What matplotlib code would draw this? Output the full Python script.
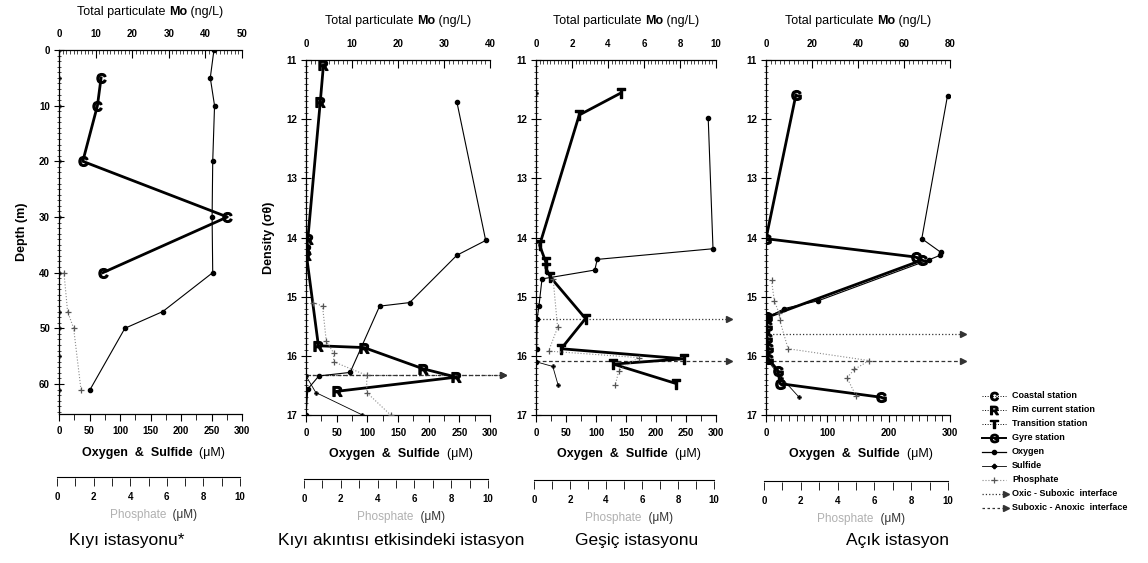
import matplotlib
matplotlib.use("Agg")
import matplotlib.pyplot as plt
from matplotlib.ticker import MultipleLocator

plt.rcParams["font.family"] = ["Liberation Sans", "DejaVu Sans"]
# station letters are drawn as mathtext markers in an upright bold face
plt.rcParams["mathtext.fontset"] = "custom"
plt.rcParams["mathtext.rm"] = "Liberation Sans:bold"
plt.rcParams["mathtext.it"] = "Liberation Sans:bold"
plt.rcParams["mathtext.bf"] = "Liberation Sans:bold"

# ---------------- data ----------------
# Coastal station (depth, m)
c_mo_depth = [5, 10, 20, 30, 40]
c_mo = [11.5, 10.5, 6.5, 46, 12]
c_o2_depth = [0, 5, 10, 20, 30, 40, 47, 50, 61]
c_o2 = [254, 248, 255, 252, 251, 252, 170, 108, 51]
c_h2s_depth = [0, 5, 10, 20, 30, 40, 47, 50, 55, 61]
c_h2s = [0, 0, 0, 0, 0, 0, 0, 0, 0, 0]
c_po4_depth = [40, 47, 50, 61]
c_po4 = [0.27, 0.47, 0.8, 1.2]

# Rim current station (density, sigma-theta)
r_mo_sig = [11.08, 11.71, 14.02, 14.2, 14.3, 15.83, 15.86, 16.22, 16.36, 16.6]
r_mo = [3.8, 3.1, 0.4, 0.1, 0.1, 2.7, 12.6, 25.5, 32.7, 6.7]
r_o2_sig = [11.71, 14.05, 14.3, 15.1, 15.16, 16.28, 16.34, 16.56, 17.0]
r_o2 = [246, 293, 246, 169, 120, 72, 21, 3, 0]
r_h2s_sig = [16.34, 16.62, 17.0]
r_h2s = [0, 16, 92]
r_po4_sig = [15.1, 15.16, 15.75, 15.95, 16.1, 16.33, 16.62, 17.0]
r_po4 = [0.4, 0.9, 1.1, 1.5, 1.5, 3.3, 3.3, 4.6]
r_interfaces = [16.33, 16.33]

# Transition station
t_mo_sig = [11.56, 11.93, 14.13, 14.42, 14.52, 14.67, 15.37, 15.88, 16.05, 16.14, 16.47]
t_mo = [4.7, 2.4, 0.2, 0.55, 0.55, 0.8, 2.75, 1.4, 8.2, 4.3, 7.8]
t_o2_sig = [11.98, 14.19, 14.37, 14.55, 14.7, 15.15, 15.37, 15.88, 16.1]
t_o2 = [287, 295, 102, 98, 10, 5, 2, 1, 0]
t_h2s_sig = [11.55, 15.37, 15.88, 16.1, 16.18, 16.5]
t_h2s = [0, 0, 0, 0, 28, 37]
t_po4_sig = [14.7, 15.52, 15.92, 16.03, 16.25, 16.5]
t_po4 = [0.95, 1.2, 0.7, 5.7, 4.6, 4.4]
t_interfaces = [15.37, 16.08]

# Gyre station
g_mo_sig = [11.59, 14.02, 14.33, 14.38, 15.35, 15.5, 15.7, 15.87, 16.05, 16.25, 16.47, 16.7]
g_mo = [13, 0, 65, 68, 0.3, 0.5, 0.5, 1, 1, 5.2, 6.1, 50]
g_o2_sig = [11.6, 14.02, 14.25, 14.3, 14.38, 15.07, 15.2, 15.35, 15.6, 16.0]
g_o2 = [296, 254, 285, 284, 265, 85, 30, 3, 1, 0]
g_h2s_sig = [16.05, 16.37, 16.7]
g_h2s = [0, 25, 54]
g_po4_sig = [14.72, 15.07, 15.27, 15.4, 15.88, 16.08, 16.23, 16.37, 16.68]
g_po4 = [0.3, 0.45, 0.7, 0.75, 1.2, 5.6, 4.8, 4.4, 4.9]
g_interfaces = [15.63, 16.08]

titles = ["Kıyı istasyonu*", "Kıyı akıntısı etkisindeki istasyon",
          "Geşiç istasyonu", "Açık istasyon"]
legend_labels = ["Coastal station", "Rim current station", "Transition station",
                 "Gyre station", "Oxygen", "Sulfide", "Phosphate",
                 "Oxic - Suboxic  interface", "Suboxic - Anoxic  interface"]

# ---------------- layout helpers ----------------
W, H = 1148, 563
fig = plt.figure(figsize=(W / 100, H / 100), dpi=100)
renderer = fig.canvas.get_renderer()


def px_axes(l, t, r, b):
    return fig.add_axes([l / W, 1 - b / H, (r - l) / W, (b - t) / H])


def mixed_text(cx, cy, pieces, size):
    """Centre a run of differently styled text pieces on pixel (cx, cy)."""
    objs, widths = [], []
    for s, w, c in pieces:
        t = fig.text(0, 0, s, fontsize=size, fontweight=w, color=c,
                     va="center", ha="left")
        widths.append(t.get_window_extent(renderer).width)
        objs.append(t)
    x = cx - sum(widths) / 2
    for t, wd in zip(objs, widths):
        t.set_position((x / W, 1 - cy / H))
        x += wd


TICK_FS = 7
LABEL_FS = 9
PHOS_COLOR = "#8a8a8a"

panels = [
    dict(box=(59, 50, 242, 414), ylim=(65.4, 0), ymaj=10, ymin=1,
         mo_max=50, mo_maj=10, mo_min=1, o2_maj=50, o2_min=25,
         mo=(c_mo, c_mo_depth), mk="$C$",
         o2=(c_o2, c_o2_depth), h2s=(c_h2s, c_h2s_depth), po4=(c_po4, c_po4_depth),
         inter=[], ylabel="Depth (m)", phos_y=477, title_x=127, mo_title_y=12),
    dict(box=(306, 60, 490, 415), ylim=(17, 11), ymaj=1, ymin=0.1,
         mo_max=40, mo_maj=10, mo_min=1, o2_maj=50, o2_min=25,
         mo=(r_mo, r_mo_sig), mk="$R$",
         o2=(r_o2, r_o2_sig), h2s=(r_h2s, r_h2s_sig), po4=(r_po4, r_po4_sig),
         inter=r_interfaces, ylabel="Density (σθ)", phos_y=479, title_x=401,
         mo_title_y=21),
    dict(box=(536, 60, 716, 415), ylim=(17, 11), ymaj=1, ymin=0.1,
         mo_max=10, mo_maj=2, mo_min=0.2, o2_maj=50, o2_min=25,
         mo=(t_mo, t_mo_sig), mk="$T$",
         o2=(t_o2, t_o2_sig), h2s=(t_h2s, t_h2s_sig), po4=(t_po4, t_po4_sig),
         inter=t_interfaces, ylabel=None, phos_y=480, title_x=637, mo_title_y=21),
    dict(box=(766, 60, 950, 415), ylim=(17, 11), ymaj=1, ymin=0.1,
         mo_max=80, mo_maj=20, mo_min=2, o2_maj=100, o2_min=12.5,
         mo=(g_mo, g_mo_sig), mk="$G$",
         o2=(g_o2, g_o2_sig), h2s=(g_h2s, g_h2s_sig), po4=(g_po4, g_po4_sig),
         inter=g_interfaces, ylabel=None, phos_y=481, title_x=897, mo_title_y=21),
]

for i, p in enumerate(panels):
    l, t, r, b = p["box"]
    ax = px_axes(l, t, r, b)
    ax.set_facecolor("none")
    ax.set_xlim(0, 300)
    ax.set_ylim(*p["ylim"])
    for s in ("top", "right"):
        ax.spines[s].set_visible(False)
    ax.spines["left"].set_linewidth(0.9)
    ax.spines["bottom"].set_linewidth(0.9)
    ax.xaxis.set_major_locator(MultipleLocator(p["o2_maj"]))
    ax.xaxis.set_minor_locator(MultipleLocator(p["o2_min"]))
    ax.yaxis.set_major_locator(MultipleLocator(p["ymaj"]))
    ax.yaxis.set_minor_locator(MultipleLocator(p["ymin"]))
    ax.tick_params(axis="x", which="major", direction="out", length=5, width=0.8,
                   pad=4, labelsize=TICK_FS)
    ax.tick_params(axis="x", which="minor", direction="out", length=4, width=0.6)
    ax.tick_params(axis="y", which="major", direction="inout", length=7, width=0.8,
                   pad=3, labelsize=TICK_FS)
    ax.tick_params(axis="y", which="minor", direction="inout", length=3, width=0.5)
    for lab in ax.get_xticklabels() + ax.get_yticklabels():
        lab.set_fontweight("bold")
    if p["ylabel"]:
        ax.set_ylabel(p["ylabel"], fontsize=LABEL_FS, fontweight="bold", labelpad=8)

    # oxygen and sulfide on the bottom scale
    xo, yo = p["o2"]
    ax.plot(xo, yo, color="black", lw=0.8, marker="o", ms=3, zorder=3)
    xs, ys = p["h2s"]
    ax.plot(xs, ys, color="black", lw=0.6, marker="P", ms=3, mew=0.3, zorder=3)

    # interfaces: horizontal arrows running past the right edge
    trans = ax.get_yaxis_transform()
    for k, d in enumerate(p["inter"]):
        ls = ":" if k == 0 else (0, (3, 2))
        ax.plot([0, 1.07], [d, d], transform=trans, color="#333333", lw=0.9,
                ls=ls, clip_on=False, zorder=2)
        ax.plot([1.07], [d], transform=trans, marker=">", ms=5, color="#333333",
                clip_on=False, zorder=2)

    # particulate Mo on the top scale
    axm = ax.twiny()
    axm.set_xlim(0, p["mo_max"])
    axm.set_ylim(*p["ylim"])
    for s in ("left", "right", "bottom"):
        axm.spines[s].set_visible(False)
    axm.spines["top"].set_linewidth(0.9)
    axm.xaxis.set_major_locator(MultipleLocator(p["mo_maj"]))
    axm.xaxis.set_minor_locator(MultipleLocator(p["mo_min"]))
    axm.tick_params(axis="x", which="major", direction="in", length=6, width=0.8,
                    pad=8, labelsize=TICK_FS)
    axm.tick_params(axis="x", which="minor", direction="in", length=3, width=0.5)
    for lab in axm.get_xticklabels():
        lab.set_fontweight("bold")
    xm, ym = p["mo"]
    axm.plot(xm, ym, color="black", lw=2.0, marker=p["mk"], ms=7, zorder=4)

    # phosphate plotted on its own hidden scale
    axp = ax.twiny()
    axp.set_xlim(0, 10)
    axp.set_ylim(*p["ylim"])
    axp.axis("off")
    xp, yp = p["po4"]
    axp.plot(xp, yp, color=PHOS_COLOR, lw=0.8, ls=":", marker="+", ms=4, mew=0.9,
             mec="#555555", zorder=2)

    # separate phosphate scale bar below
    py = p["phos_y"]
    axs = px_axes(l - 2, py, r - 2, py + 1)
    axs.set_facecolor("none")
    axs.set_xlim(0, 10)
    axs.set_yticks([])
    for s in ("left", "right", "bottom"):
        axs.spines[s].set_visible(False)
    axs.spines["top"].set_linewidth(0.8)
    axs.xaxis.set_major_locator(MultipleLocator(2))
    axs.xaxis.set_minor_locator(MultipleLocator(1))
    axs.tick_params(axis="x", which="both", direction="out", length=6, width=0.6,
                    pad=4, labelsize=TICK_FS)
    for lab in axs.get_xticklabels():
        lab.set_fontweight("bold")

    cx = (l + r) / 2
    mixed_text(cx, p["mo_title_y"], [("Total particulate ", "normal", "black"),
                                     ("Mo", "bold", "black"),
                                     (" (ng/L)", "normal", "black")], LABEL_FS)
    mixed_text(cx + 3, b + 39, [("Oxygen  &  Sulfide", "bold", "black"),
                                ("  (μM)", "normal", "black")], LABEL_FS)
    mixed_text(cx + 3, py + 38, [("Phosphate", "normal", "#b0b0b0"),
                                 ("  (μM)", "normal", "#333333")], 8.5)
    fig.text(p["title_x"] / W, 1 - 541 / H, titles[i], fontsize=12.5,
             ha="center", va="center")

# ---------------- legend ----------------
lg = fig.add_axes([0, 0, 1, 1])
lg.set_xlim(0, W)
lg.set_ylim(H, 0)
lg.axis("off")
ys0 = [396, 410, 424, 438, 452, 466, 480, 494, 508]
x0, x1, xm_ = 982, 1006, 994
styles = [
    dict(kind="st", mk="$C$"),
    dict(kind="st", mk="$R$"),
    dict(kind="st", mk="$T$"),
    dict(kind="st", mk="$G$", thick=True),
    dict(kind="o2"),
    dict(kind="h2s"),
    dict(kind="po4"),
    dict(kind="arrow", ls=":"),
    dict(kind="arrow", ls=(0, (2, 2))),
]
for y, st, lab in zip(ys0, styles, legend_labels):
    k = st["kind"]
    if k == "st":
        lg.plot([x0, x1], [y, y], color="black", lw=1.4 if st.get("thick") else 0.7,
                ls="-" if st.get("thick") else ":")
        lg.plot([xm_], [y], marker=st["mk"], ms=6, color="black")
    elif k == "o2":
        lg.plot([x0, x1], [y, y], color="black", lw=0.9)
        lg.plot([xm_], [y], marker="o", ms=3, color="black")
    elif k == "h2s":
        lg.plot([x0, x1], [y, y], color="black", lw=0.6)
        lg.plot([xm_], [y], marker="P", ms=3, color="black")
    elif k == "po4":
        lg.plot([x0, x1], [y, y], color=PHOS_COLOR, lw=0.8, ls=":")
        lg.plot([xm_], [y], marker="+", ms=4, mew=0.9, color="#555555")
    else:
        lg.plot([x0, x1 - 2], [y, y], color="#333333", lw=0.9, ls=st["ls"])
        lg.plot([x1], [y], marker=">", ms=4, color="#333333")
    lg.text(1012, y, lab, fontsize=6.5, fontweight="bold", va="center", ha="left")

fig.savefig("out.png", dpi=100)
